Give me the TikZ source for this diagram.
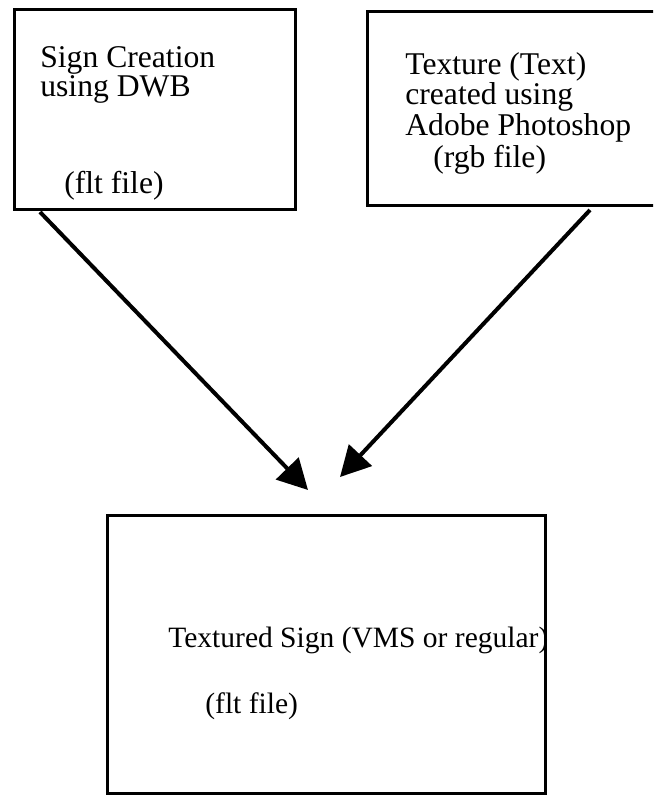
\documentclass[tikz,border=0pt]{standalone}
\usepackage{fontspec}
\setmainfont{Liberation Serif}
\usetikzlibrary{arrows.meta}

\begin{document}
\begin{tikzpicture}[x=0.2mm, y=-0.2mm, >={Triangle[length=6mm, width=6.2mm]}]

  \tikzset{
    box/.style={draw, line width=0.6mm, inner sep=0pt, outer sep=0pt},
    label/.style={anchor=base west, inner sep=0pt, align=left,
      font=\fontsize{18}{15.8}\selectfont},
    small label/.style={label, font=\fontsize{16.8}{15.8}\selectfont},
    flow/.style={->, line width=0.8mm}
  }

  % page frame
  \clip (0,0) rectangle (653,795);

  % the three boxes
  \node[box, minimum width=56mm, minimum height=39.8mm] (dwb) at (155,109.5) {};
  \node[box, minimum width=59.6mm, minimum height=38.6mm] (photo) at (516,108.5) {};
  \node[box, minimum width=87.4mm, minimum height=55.6mm] (sign) at (326.5,654) {};

  % texts (base anchor sits on the last line)
  \node[label] (dwbtxt) at (40,97) {Sign Creation\\using DWB};
  \node[label] (dwbfile) at (64,193) {(flt file)};
  \node[label] (phototxt) at (405,135) {Texture (Text)\\created using\\Adobe Photoshop};
  \node[label] (photofile) at (433,167) {(rgb file)};
  \node[small label] (signtxt) at (168,647) {Textured Sign (VMS or regular)};
  \node[small label] (signfile) at (205,713) {(flt file)};

  % arrow ends
  \coordinate (tipA) at (308,490);
  \coordinate (tipB) at (340,477);

  \draw[flow] ([xshift=5mm, yshift=-0.6mm]dwb.south west) -- (tipA);
  \draw[flow] ([xshift=44.6mm, yshift=-1mm]photo.south west) -- (tipB);

\end{tikzpicture}
\end{document}
